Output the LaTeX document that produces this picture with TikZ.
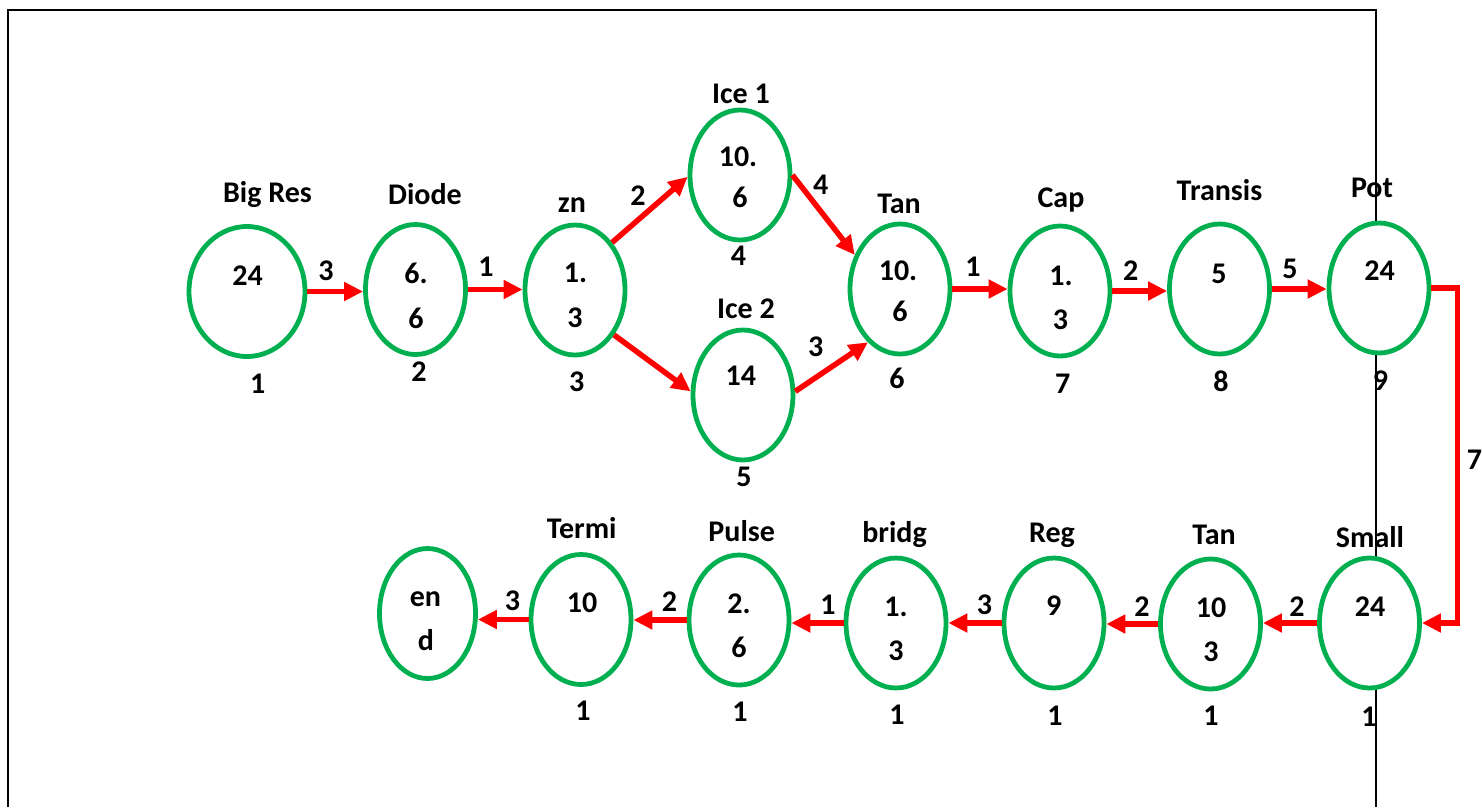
\documentclass[tikz,border=0pt]{standalone}
\usepackage{fontspec}
\setmainfont{Carlito}
\usetikzlibrary{arrows.meta,shapes.geometric}
\definecolor{ngreen}{HTML}{00B050}
\definecolor{nred}{HTML}{FF0000}
\begin{document}
\begin{tikzpicture}[x=1pt,y=-1pt,
  st/.style={ellipse,draw=ngreen,line width=4.8pt,fill=white,minimum width=100pt,minimum height=130pt,inner sep=0pt},
  lbl/.style={anchor=base,inner sep=0pt,font=\fontsize{30}{36}\selectfont\bfseries},
  arr/.style={draw=nred,line width=5.5pt,-{Triangle[length=19pt,width=18pt]}},
  frame/.style={draw=black,line width=2pt}]
\useasboundingbox (0,0) rectangle (1483,807);
\draw[frame] (7.7,807) -- (7.7,10.3) -- (1376,10.3) -- (1376,807);
% states
\node[st,minimum width=116pt] (bigres) at (247,291.5) {};
\node[st] (diode) at (415.5,289.5) {};
\node[st] (zn) at (575,290) {};
\node[st] (ice1) at (740,175) {};
\node[st] (ice2) at (743,395) {};
\node[st] (tan1) at (900,289) {};
\node[st] (cap) at (1060,291) {};
\node[st] (transis) at (1219.5,289) {};
\node[st] (pot) at (1379,288) {};
\node[st] (small) at (1369.5,623) {};
\node[st] (tan2) at (1210.5,624) {};
\node[st] (reg) at (1054,623) {};
\node[st] (bridg) at (896,623) {};
\node[st] (pulse) at (739,620) {};
\node[st] (termi) at (581,619.5) {};
\node[st,minimum width=96pt] (endn) at (427.5,613.5) {};
% titles
\node[lbl] (tBig) at (267.5,202) {Big Res};
\node[lbl] (tDiode) at (425,204) {Diode};
\node[lbl] (tZn) at (572,212) {zn};
\node[lbl] (tIce1) at (741,103) {Ice 1};
\node[lbl] (tIce2) at (746,318) {Ice 2};
\node[lbl] (tTan1) at (899,213) {Tan};
\node[lbl] (tCap) at (1061,207) {Cap};
\node[lbl] (tTransis) at (1219.5,200) {Transis};
\node[lbl] (tPot) at (1372,197) {Pot};
\node[lbl] (tSmall) at (1370,547) {Small};
\node[lbl] (tTan2) at (1214,544) {Tan};
\node[lbl] (tReg) at (1052,542) {Reg};
\node[lbl] (tBridg) at (894.5,542) {bridg};
\node[lbl] (tPulse) at (741.7,541) {Pulse};
\node[lbl] (tTermi) at (581.7,538) {Termi};
% inner values
\node[lbl] (vBig) at (247.5,285) {24};
\node[lbl] (vDiodeA) at (416,283.3) {6.};
\node[lbl] (vDiodeB) at (416,328.3) {6};
\node[lbl] (vZnA) at (575.5,282.7) {1.};
\node[lbl] (vZnB) at (575,327) {3};
\node[lbl] (vIce1A) at (738,166) {10.};
\node[lbl] (vIce1B) at (740,207) {6};
\node[lbl] (vIce2) at (740.8,385) {14};
\node[lbl] (vTan1A) at (898,280) {10.};
\node[lbl] (vTan1B) at (900,321.7) {6};
\node[lbl] (vCapA) at (1061,285) {1.};
\node[lbl] (vCapB) at (1060.5,329.3) {3};
\node[lbl] (vTransis) at (1219,283.3) {5};
\node[lbl] (vPot) at (1379.5,280.7) {24};
\node[lbl] (vSmall) at (1370,616.7) {24};
\node[lbl] (vTan2A) at (1211,617.3) {10};
\node[lbl] (vTan2B) at (1211,661.7) {3};
\node[lbl] (vReg) at (1053.7,615) {9};
\node[lbl] (vBridgA) at (896,616) {1.};
\node[lbl] (vBridgB) at (896,660) {3};
\node[lbl] (vPulseA) at (739,613.3) {2.};
\node[lbl] (vPulseB) at (739,657.3) {6};
\node[lbl] (vTermi) at (582,612.3) {10};
\node[lbl] (vEndA) at (425.5,606.7) {en};
\node[lbl] (vEndB) at (425.8,650.7) {d};
% numbers below
\node[lbl] (nBig) at (257.7,393.3) {1};
\node[lbl] (nDiode) at (419,381.7) {2};
\node[lbl] (nZn) at (576.7,391.7) {3};
\node[lbl] (nIce1) at (738.5,265.7) {4};
\node[lbl] (nIce2) at (744,486.7) {5};
\node[lbl] (nTan1) at (897,388) {6};
\node[lbl] (nCap) at (1062.7,393) {7};
\node[lbl] (nTransis) at (1221,391.7) {8};
\node[lbl] (nPot) at (1380.5,390) {9};
\node[lbl] (nSmall) at (1369,726.7) {1};
\node[lbl] (nTan2) at (1211,725.7) {1};
\node[lbl] (nReg) at (1055,725) {1};
\node[lbl] (nBridg) at (897,724) {1};
\node[lbl] (nPulse) at (740,721.7) {1};
\node[lbl] (nTermi) at (583,720.7) {1};
% edge weights
\node[lbl] (w1) at (326,280) {3};
\node[lbl] (w2) at (486,276.7) {1};
\node[lbl] (w3) at (638,205) {2};
\node[lbl] (w4) at (820.8,194) {4};
\node[lbl] (w5) at (815.8,356.7) {3};
\node[lbl] (w6) at (973,276.7) {1};
\node[lbl] (w7) at (1130.8,280) {2};
\node[lbl] (w8) at (1290,278.3) {5};
\node[lbl] (w9) at (1474.5,469) {7};
\node[lbl] (w10) at (1297,616.7) {2};
\node[lbl] (w11) at (1142,616.7) {2};
\node[lbl] (w12) at (984.5,614.3) {3};
\node[lbl] (w13) at (828,614.3) {1};
\node[lbl] (w14) at (669.5,611.7) {2};
\node[lbl] (w15) at (512.5,610) {3};
% arrows
\draw[arr] (bigres.east) -- (bigres.east -| diode.west);
\draw[arr] (diode.east) -- (diode.east -| zn.west);
\draw[arr] (zn.52) -- (ice1.182);
\draw[arr] (zn.-49) -- (ice2.176);
\draw[arr] (ice1.east) -- (tan1.143);
\draw[arr] (ice2.4) -- (tan1.239);
\draw[arr] (tan1.east) -- (tan1.east -| cap.west);
\draw[arr] (cap.east) -- (cap.east -| transis.west);
\draw[arr] (transis.east) -- (transis.east -| pot.west);
\draw[arr,line join=miter] (pot.east) -- ++(26,0) |- (small.east);
\draw[arr] (small.west) -- (small.west -| tan2.east);
\draw[arr] (tan2.west) -- (tan2.west -| reg.east);
\draw[arr] (reg.west) -- (reg.west -| bridg.east);
\draw[arr] (bridg.west) -- (bridg.west -| pulse.east);
\draw[arr] (pulse.west) -- (pulse.west -| termi.east);
\draw[arr] (termi.west) -- (termi.west -| endn.east);
\end{tikzpicture}
\end{document}
